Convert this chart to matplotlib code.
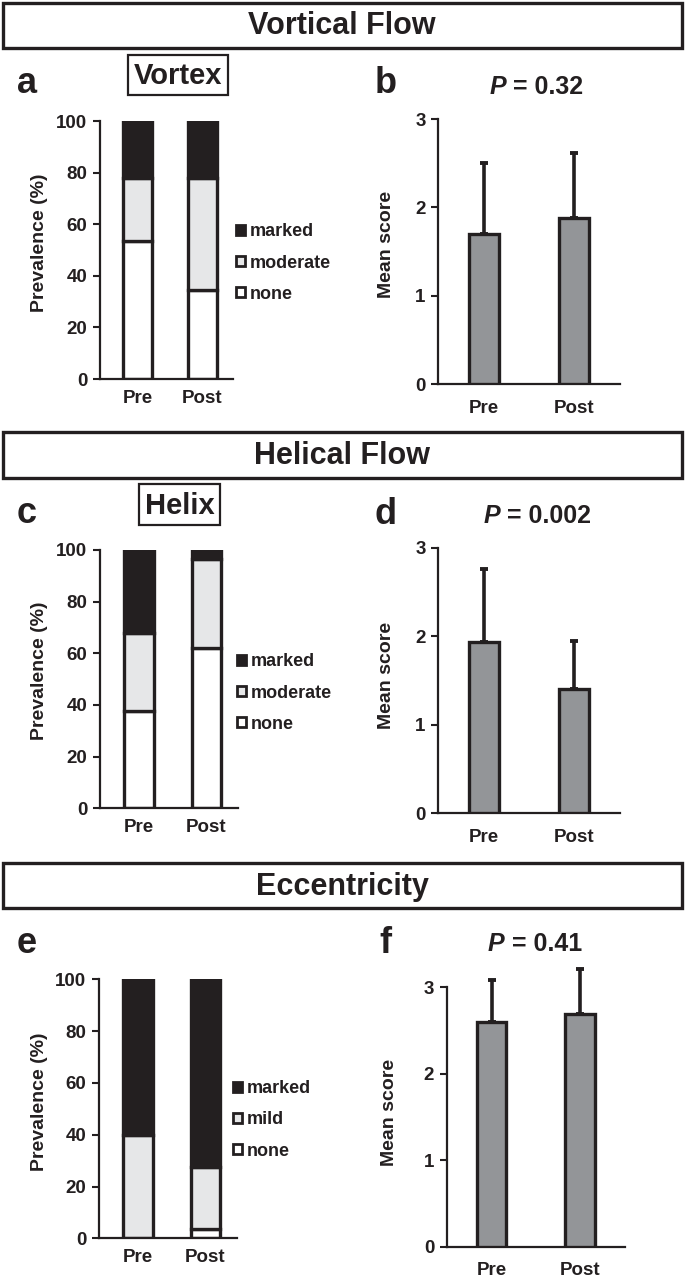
import matplotlib
matplotlib.use('Agg')
import matplotlib.pyplot as plt
from matplotlib.patches import Rectangle, Patch
from matplotlib.offsetbox import TextArea, HPacker, AnchoredOffsetbox

plt.rcParams['font.family'] = ['Liberation Sans', 'DejaVu Sans']
plt.rcParams['font.weight'] = 'bold'
plt.rcParams['axes.labelweight'] = 'bold'

DARK = '#231f20'
C_MARKED = '#231f20'
C_MID = '#e6e7e8'
C_NONE = '#ffffff'
C_MEAN = '#939598'

timepoints = ['Pre', 'Post']

# ---- Vortical flow ----
vortex_levels = ['none', 'moderate', 'marked']
vortex_none = [53.5, 34.5]
vortex_moderate = [24.3, 43.3]
vortex_marked = [22.2, 22.2]
vortex_mean = [1.70, 1.88]
vortex_sd = [0.80, 0.74]
vortex_p = '0.32'

# ---- Helical flow ----
helix_levels = ['none', 'moderate', 'marked']
helix_none = [37.8, 62.0]
helix_moderate = [30.0, 34.5]
helix_marked = [32.2, 3.5]
helix_mean = [1.93, 1.40]
helix_sd = [0.83, 0.55]
helix_p = '0.002'

# ---- Eccentricity ----
ecc_levels = ['none', 'mild', 'marked']
ecc_none = [0.0, 3.5]
ecc_mild = [40.0, 24.1]
ecc_marked = [60.0, 72.4]
ecc_mean = [2.60, 2.69]
ecc_sd = [0.49, 0.52]
ecc_p = '0.41'

W, H = 685, 1282
fig = plt.figure(figsize=(W / 100, H / 100), dpi=100)


def fx(x):
    return x / W


def fy(y):
    return 1 - y / H


def px_axes(l, r, t, b):
    return fig.add_axes([l / W, 1 - b / H, (r - l) / W, (b - t) / H])


def style_axes(ax):
    for s in ['top', 'right']:
        ax.spines[s].set_visible(False)
    for s in ['left', 'bottom']:
        ax.spines[s].set_linewidth(1.6)
        ax.spines[s].set_color(DARK)
    ax.tick_params(axis='y', length=5, width=1.5, pad=4, labelsize=13.5,
                   color=DARK, labelcolor=DARK)
    ax.tick_params(axis='x', length=0, labelsize=13.5, labelcolor=DARK)


def header(y0, y1, label):
    fig.add_artist(Rectangle((fx(3), fy(y1)), fx(679), (y1 - y0) / H,
                             transform=fig.transFigure, fill=False,
                             lw=2.4, ec=DARK))
    fig.text(fx(342), fy((y0 + y1) / 2 + 1), label, ha='center', va='center',
             fontsize=22, color=DARK)


def letter(x, y, s):
    fig.text(fx(x), fy(y), s, ha='left', va='baseline', fontsize=26,
             color=DARK)


def stacked(box, levels, none, mid, marked, lab_center, leg_xy):
    ax = px_axes(*box)
    style_axes(ax)
    x = [0, 1]
    w = 0.44
    kw = dict(width=w, edgecolor=DARK, linewidth=2.4)
    ax.bar(x, none, color=C_NONE, label=levels[0], **kw)
    ax.bar(x, mid, bottom=none, color=C_MID, label=levels[1], **kw)
    bot2 = [a + b for a, b in zip(none, mid)]
    ax.bar(x, marked, bottom=bot2, color=C_MARKED, label=levels[2], **kw)
    ax.set_ylim(0, 100)
    ax.set_xlim(-0.58, 1.47)
    ax.set_yticks([0, 20, 40, 60, 80, 100])
    ax.set_xticks(x, timepoints)
    ax.tick_params(axis='x', pad=8)
    ax.set_ylabel('Prevalence (%)', fontsize=14, color=DARK,
                  ha='center', va='center')
    ax.yaxis.set_label_coords(fx(lab_center[0]), fy(lab_center[1]),
                              transform=fig.transFigure)
    handles = [Patch(facecolor=C_MARKED, edgecolor=DARK, lw=2),
               Patch(facecolor=C_MID, edgecolor=DARK, lw=2),
               Patch(facecolor=C_NONE, edgecolor=DARK, lw=2)]
    ax.legend(handles, [levels[2], levels[1], levels[0]], loc='center left',
              bbox_to_anchor=(fx(leg_xy[0]), fy(leg_xy[1])),
              bbox_transform=fig.transFigure, frameon=False, fontsize=13,
              handlelength=0.5, handleheight=0.5, handletextpad=0.25,
              labelspacing=0.78, borderpad=0, borderaxespad=0,
              labelcolor=DARK)
    return ax


def means(box, mean, sd, p, lab_center, title_xy):
    ax = px_axes(*box)
    style_axes(ax)
    x = [0, 1]
    ax.bar(x, mean, width=0.33, color=C_MEAN, edgecolor=DARK, linewidth=2.4,
           zorder=3)
    ax.errorbar(x, mean, yerr=[[0, 0], sd], fmt='none', ecolor=DARK,
                elinewidth=2.6, capsize=3.2, capthick=2.8, zorder=2,
                clip_on=False)
    ax.set_ylim(0, 3)
    ax.set_xlim(-0.51, 1.51)
    ax.set_yticks([0, 1, 2, 3])
    ax.set_xticks(x, timepoints)
    ax.tick_params(axis='x', pad=11)
    ax.set_ylabel('Mean score', fontsize=14, color=DARK, ha='center',
                  va='center')
    ax.yaxis.set_label_coords(fx(lab_center[0]), fy(lab_center[1]),
                              transform=fig.transFigure)
    tp = dict(fontsize=18, color=DARK, fontweight='bold')
    pk = HPacker(children=[TextArea('P', textprops=dict(style='italic', **tp)),
                           TextArea(' = ' + p, textprops=tp)],
                 sep=0, pad=0, align='baseline')
    ab = AnchoredOffsetbox(loc='center', child=pk, pad=0, borderpad=0,
                           frameon=False,
                           bbox_to_anchor=(fx(title_xy[0]), fy(title_xy[1])),
                           bbox_transform=fig.transFigure)
    fig.add_artist(ab)
    return ax


def boxed_label(x0, x1, y0, y1, s):
    fig.add_artist(Rectangle((fx(x0), fy(y1)), (x1 - x0) / W, (y1 - y0) / H,
                             transform=fig.transFigure, fill=False, lw=1.6,
                             ec=DARK))
    fig.text(fx((x0 + x1) / 2), fy((y0 + y1) / 2 + 1), s, ha='center',
             va='center', fontsize=21, color=DARK)


# Section headers
header(3, 48, 'Vortical Flow')
header(432, 478, 'Helical Flow')
header(863, 908, 'Eccentricity')

boxed_label(128, 228, 55, 95, 'Vortex')
boxed_label(139, 220, 484, 525, 'Helix')

letter(17, 93, 'a')
letter(375, 93, 'b')
letter(17, 523, 'c')
letter(375, 524, 'd')
letter(17, 953, 'e')
letter(379, 953, 'f')

stacked((100, 233, 121, 379), vortex_levels, vortex_none, vortex_moderate,
        vortex_marked, (40, 243), (236, 263))
means((438, 620, 119, 384.3), vortex_mean, vortex_sd, vortex_p, (387, 244),
      (536, 87))

stacked((100, 238, 550, 808.3), helix_levels, helix_none, helix_moderate,
        helix_marked, (40, 671), (237, 693))
means((438, 620, 547.7, 813.3), helix_mean, helix_sd, helix_p, (387, 675),
      (537, 516))

stacked((99, 237, 979.3, 1238.3), ecc_levels, ecc_none, ecc_mild,
        ecc_marked, (40, 1102), (233, 1120))
means((446.7, 625, 987.3, 1246.7), ecc_mean, ecc_sd, ecc_p, (390, 1112),
      (535, 944))

fig.savefig('out.png', dpi=100, facecolor='white')
